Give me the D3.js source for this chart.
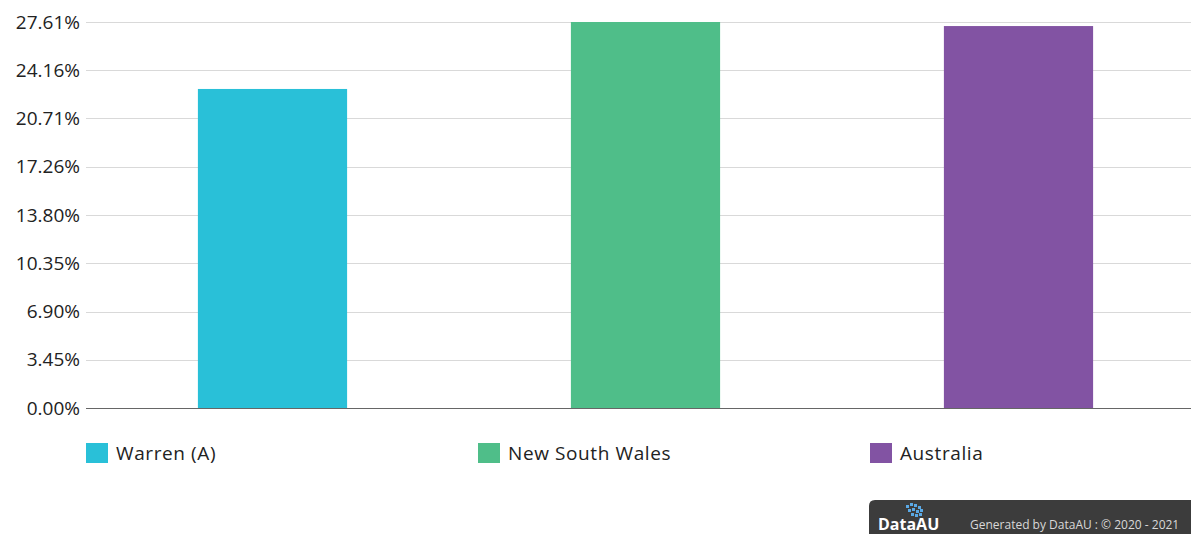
<!DOCTYPE html>
<html><head><meta charset="utf-8">
<script src="https://cdn.jsdelivr.net/npm/d3@7"></script>
<style>body{margin:0;background:#fff;overflow:hidden}svg{display:block;font-family:"Open Sans","Noto Sans",sans-serif}</style>
</head><body>
<svg id="c" width="1191" height="534"></svg>
<script>
const categories = ["Warren (A)", "New South Wales", "Australia"];
const values = [22.82, 27.61, 27.32];
const colors = ["#29c0d8", "#4fbe89", "#8253a3"];
const tickValues = [0, 3.45, 6.90, 10.35, 13.80, 17.26, 20.71, 24.16, 27.61];
const tickLabels = ["0.00%", "3.45%", "6.90%", "10.35%", "13.80%", "17.26%", "20.71%", "24.16%", "27.61%"];

const svg = d3.select("#c");
const mLeft = 86, mRight = 1205, mTop = 22, mBottom = 408;
const x = d3.scaleBand().domain(categories).range([mLeft, mRight]).padding(0);
const y = d3.scaleLinear().domain([0, 27.61]).range([mBottom, mTop]);

// gridlines
svg.append("g").selectAll("line").data(tickValues.slice(1)).join("line")
  .attr("x1", mLeft).attr("x2", 1191)
  .attr("y1", d => Math.round(y(d)) + 0.5).attr("y2", d => Math.round(y(d)) + 0.5)
  .attr("stroke", "#d9d9d9").attr("stroke-width", 1);

// y labels
svg.append("g").selectAll("text").data(tickValues).join("text")
  .attr("x", 80).attr("y", d => y(d) + 6.5)
  .attr("text-anchor", "end").attr("font-size", 19).attr("fill", "#222")
  .text((d, i) => tickLabels[i]);

// bars
const bw = x.bandwidth() * 0.4;
svg.append("g").selectAll("rect").data(values).join("rect")
  .attr("x", (d, i) => x(categories[i]) + (x.bandwidth() - bw) / 2)
  .attr("width", bw)
  .attr("y", d => y(d)).attr("height", d => mBottom - y(d))
  .attr("fill", (d, i) => colors[i]);

// baseline
svg.append("line").attr("x1", mLeft).attr("x2", 1191)
  .attr("y1", mBottom + 0.5).attr("y2", mBottom + 0.5)
  .attr("stroke", "#666").attr("stroke-width", 1);

// legend
const legX = [86, 478, 870];
const leg = svg.append("g").selectAll("g").data(categories).join("g")
  .attr("transform", (d, i) => `translate(${legX[i]},443)`);
leg.append("rect").attr("width", 22).attr("height", 20).attr("fill", (d, i) => colors[i]);
leg.append("text").attr("x", 30).attr("y", 17).attr("font-size", 19).attr("letter-spacing", 0.6)
  .attr("fill", "#222").text(d => d);

// footer badge
const f = svg.append("g");
f.append("path").attr("d", "M869,534 L869,506 Q869,500 875,500 L1191,500 L1191,534 Z").attr("fill", "#3c3c3c");
const dots = [[906,505],[910,503],[914,504],[918,506],[908,509],[912,508],[916,510],[920,509],[911,513],[915,514],[919,513]];
f.selectAll("rect.d").data(dots).join("rect").attr("class","d")
  .attr("x", d => d[0]).attr("y", d => d[1]).attr("width", 3).attr("height", 3).attr("fill", "#5aa9e6");
f.append("text").attr("x", 878).attr("y", 530).attr("font-size", 16).attr("font-weight", "bold")
  .attr("fill", "#fff").text("DataAU");
f.append("text").attr("x", 970).attr("y", 529).attr("font-size", 12).attr("fill", "#d8d8d8")
  .text("Generated by DataAU : © 2020 - 2021");
</script>
</body></html>
